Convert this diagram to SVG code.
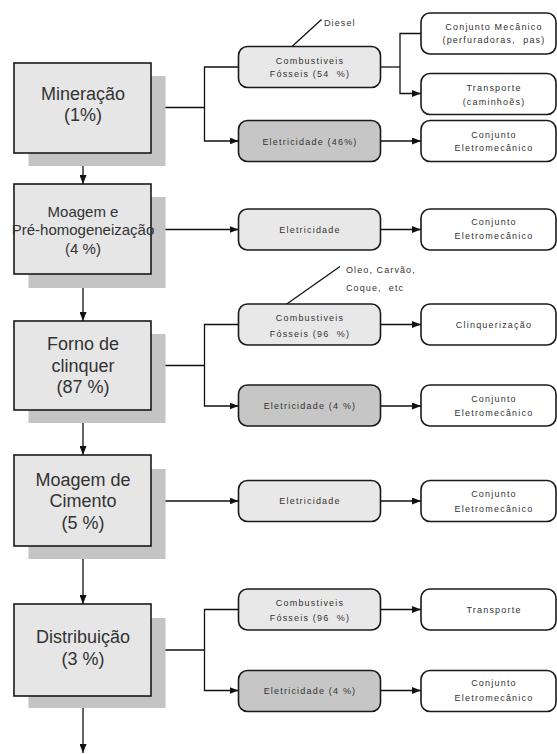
<svg xmlns="http://www.w3.org/2000/svg" width="557" height="754" viewBox="0 0 557 754">
<defs>
<style>
.shadow{fill:#c4c4c4;stroke:none}
.box{fill:#e6e6e6;stroke:#1a1a1a;stroke-width:1.6}
.big{font-family:"Liberation Sans",Arial,sans-serif;font-size:18px;fill:#333;text-anchor:middle}
.mid{font-family:"Liberation Sans",Arial,sans-serif;font-size:15px;fill:#333;text-anchor:middle}
.node{stroke:#1a1a1a;stroke-width:1.6}
.light{fill:#e8e8e8}
.dark{fill:#c6c6c6}
.white{fill:#ffffff}
.sm{font-family:"Liberation Sans",Arial,sans-serif;font-size:9px;letter-spacing:1.2px;fill:#333;text-anchor:middle}
.note{font-family:"Liberation Sans",Arial,sans-serif;font-size:9px;letter-spacing:1.1px;fill:#333}
.conn{fill:none;stroke:#111;stroke-width:1.3}
</style>
<marker id="arr" markerUnits="userSpaceOnUse" markerWidth="9" markerHeight="7" refX="9" refY="3.5" orient="auto">
<path d="M0,0 L9,3.5 L0,7 z" fill="#111"/>
</marker>
</defs>
<rect width="557" height="754" fill="#ffffff"/>

<g id="connectors">
<line class="conn" x1="83" y1="153" x2="83" y2="184" marker-end="url(#arr)"/>
<line class="conn" x1="83" y1="274" x2="83" y2="321" marker-end="url(#arr)"/>
<line class="conn" x1="83" y1="410" x2="83" y2="455" marker-end="url(#arr)"/>
<line class="conn" x1="83" y1="546" x2="83" y2="604" marker-end="url(#arr)"/>
<line class="conn" x1="83" y1="696" x2="83" y2="753" marker-end="url(#arr)"/>

<polyline class="conn" points="151,107.5 204.5,107.5"/>
<polyline class="conn" points="238.5,67 204.5,67 204.5,141 238.5,141" marker-start="url(#arr)" marker-end="url(#arr)"/>
<polyline class="conn" points="380.5,67 400,67"/>
<polyline class="conn" points="421,33.5 400,33.5 400,93.5 421,93.5" marker-start="url(#arr)" marker-end="url(#arr)"/>
<line class="conn" x1="380.5" y1="141" x2="421" y2="141" marker-end="url(#arr)"/>
<line class="conn" x1="292.5" y1="46" x2="321.5" y2="19.5"/>

<line class="conn" x1="151" y1="229.5" x2="238.5" y2="229.5" marker-end="url(#arr)"/>
<line class="conn" x1="380.5" y1="229.5" x2="421" y2="229.5" marker-end="url(#arr)"/>

<polyline class="conn" points="151,365.5 204.5,365.5"/>
<polyline class="conn" points="238.5,324.5 204.5,324.5 204.5,406 238.5,406" marker-start="url(#arr)" marker-end="url(#arr)"/>
<line class="conn" x1="380.5" y1="324.5" x2="421" y2="324.5" marker-end="url(#arr)"/>
<line class="conn" x1="380.5" y1="406" x2="421" y2="406" marker-end="url(#arr)"/>
<line class="conn" x1="286" y1="304.5" x2="340" y2="266.5"/>

<line class="conn" x1="151" y1="501" x2="238.5" y2="501" marker-end="url(#arr)"/>
<line class="conn" x1="380.5" y1="501" x2="421" y2="501" marker-end="url(#arr)"/>

<polyline class="conn" points="151,650 204.5,650"/>
<polyline class="conn" points="238.5,609.5 204.5,609.5 204.5,690.5 238.5,690.5" marker-start="url(#arr)" marker-end="url(#arr)"/>
<line class="conn" x1="380.5" y1="609.5" x2="421" y2="609.5" marker-end="url(#arr)"/>
<line class="conn" x1="380.5" y1="690.5" x2="421" y2="690.5" marker-end="url(#arr)"/>
</g>

<g id="mineracao">
<rect class="shadow" x="28.5" y="76" width="137" height="90"/>
<rect class="box" x="14" y="63" width="137" height="90"/>
<text class="big" x="83" y="99.5">Mineração</text>
<text class="big" x="83" y="121">(1%)</text>
</g>
<g id="moagem-pre">
<rect class="shadow" x="28.5" y="197" width="137" height="91"/>
<rect class="box" x="14" y="184" width="137" height="90"/>
<text class="mid" x="83" y="216.5">Moagem e</text>
<text class="mid" x="83" y="235">Pré-homogeneização</text>
<text class="mid" x="83" y="254">(4 %)</text>
</g>
<g id="forno">
<rect class="shadow" x="28.5" y="334" width="137" height="89"/>
<rect class="box" x="14" y="321" width="137" height="89"/>
<text class="big" x="83" y="349.5">Forno de</text>
<text class="big" x="83" y="371.5">clinquer</text>
<text class="big" x="83" y="393">(87 %)</text>
</g>
<g id="moagem-cimento">
<rect class="shadow" x="28.5" y="469" width="137" height="90"/>
<rect class="box" x="14" y="455" width="137" height="91"/>
<text class="big" x="83" y="486">Moagem de</text>
<text class="big" x="83" y="507">Cimento</text>
<text class="big" x="83" y="528.5">(5 %)</text>
</g>
<g id="distribuicao">
<rect class="shadow" x="28.5" y="618" width="137" height="90"/>
<rect class="box" x="14" y="604" width="137" height="92"/>
<text class="big" x="83" y="643">Distribuição</text>
<text class="big" x="83" y="664.5">(3 %)</text>
</g>

<g id="comb-54">
<rect class="node light" x="238.5" y="46.5" width="142" height="41" rx="9"/>
<text class="sm" x="310" y="63.5">Combustiveis</text>
<text class="sm" x="310" y="77" xml:space="preserve">Fósseis (54  %)</text>
</g>
<g id="diesel"><text class="note" x="324" y="26">Diesel</text></g>
<g id="elet-46">
<rect class="node dark" x="238.5" y="120.5" width="142" height="41" rx="9"/>
<text class="sm" x="310" y="144.5">Eletricidade (46%)</text>
</g>
<g id="conj-mec">
<rect class="node white" x="421" y="13" width="135" height="41" rx="9"/>
<text class="sm" x="494" y="29.5">Conjunto Mecânico</text>
<text class="sm" x="494" y="43" xml:space="preserve">(perfuradoras,  pas)</text>
</g>
<g id="transp-1">
<rect class="node white" x="421" y="73.5" width="135" height="41" rx="9"/>
<text class="sm" x="494" y="91">Transporte</text>
<text class="sm" x="494" y="104.5">(caminhoẽs)</text>
</g>
<g id="conj-eletro-1">
<rect class="node white" x="421" y="120.5" width="135" height="41" rx="9"/>
<text class="sm" x="494" y="137.5">Conjunto</text>
<text class="sm" x="494" y="151">Eletromecânico</text>
</g>

<g id="elet-moagem">
<rect class="node light" x="238.5" y="209" width="142" height="41" rx="9"/>
<text class="sm" x="310" y="233">Eletricidade</text>
</g>
<g id="conj-eletro-2">
<rect class="node white" x="421" y="209" width="135" height="41" rx="9"/>
<text class="sm" x="494" y="225">Conjunto</text>
<text class="sm" x="494" y="239">Eletromecânico</text>
</g>

<g id="oleo"><text class="note" x="346" y="272.5">Oleo, Carvão,</text>
<text class="note" x="346" y="291" xml:space="preserve">Coque,  etc</text></g>
<g id="comb-96-forno">
<rect class="node light" x="238.5" y="304" width="142" height="41" rx="9"/>
<text class="sm" x="310" y="321">Combustiveis</text>
<text class="sm" x="310" y="336.5" xml:space="preserve">Fósseis (96  %)</text>
</g>
<g id="clinquerizacao">
<rect class="node white" x="421" y="304" width="135" height="41" rx="9"/>
<text class="sm" x="494" y="327.5">Clinquerização</text>
</g>
<g id="elet-4-forno">
<rect class="node dark" x="238.5" y="385" width="142" height="41" rx="9"/>
<text class="sm" x="310" y="409">Eletricidade (4 %)</text>
</g>
<g id="conj-eletro-3">
<rect class="node white" x="421" y="385" width="135" height="41" rx="9"/>
<text class="sm" x="494" y="401.5">Conjunto</text>
<text class="sm" x="494" y="415.5">Eletromecânico</text>
</g>

<g id="elet-cimento">
<rect class="node light" x="238.5" y="480.5" width="142" height="41" rx="9"/>
<text class="sm" x="310" y="504">Eletricidade</text>
</g>
<g id="conj-eletro-4">
<rect class="node white" x="421" y="480.5" width="135" height="41" rx="9"/>
<text class="sm" x="494" y="496.5">Conjunto</text>
<text class="sm" x="494" y="511.5">Eletromecânico</text>
</g>

<g id="comb-96-dist">
<rect class="node light" x="238.5" y="589" width="142" height="41" rx="9"/>
<text class="sm" x="310" y="605.5">Combustiveis</text>
<text class="sm" x="310" y="620.5" xml:space="preserve">Fósseis (96  %)</text>
</g>
<g id="transp-2">
<rect class="node white" x="421" y="589" width="135" height="41" rx="9"/>
<text class="sm" x="494" y="612.5">Transporte</text>
</g>
<g id="elet-4-dist">
<rect class="node dark" x="238.5" y="670.5" width="142" height="41" rx="9"/>
<text class="sm" x="310" y="694">Eletricidade (4 %)</text>
</g>
<g id="conj-eletro-5">
<rect class="node white" x="421" y="670.5" width="135" height="41" rx="9"/>
<text class="sm" x="494" y="686">Conjunto</text>
<text class="sm" x="494" y="700.5">Eletromecânico</text>
</g>
</svg>
